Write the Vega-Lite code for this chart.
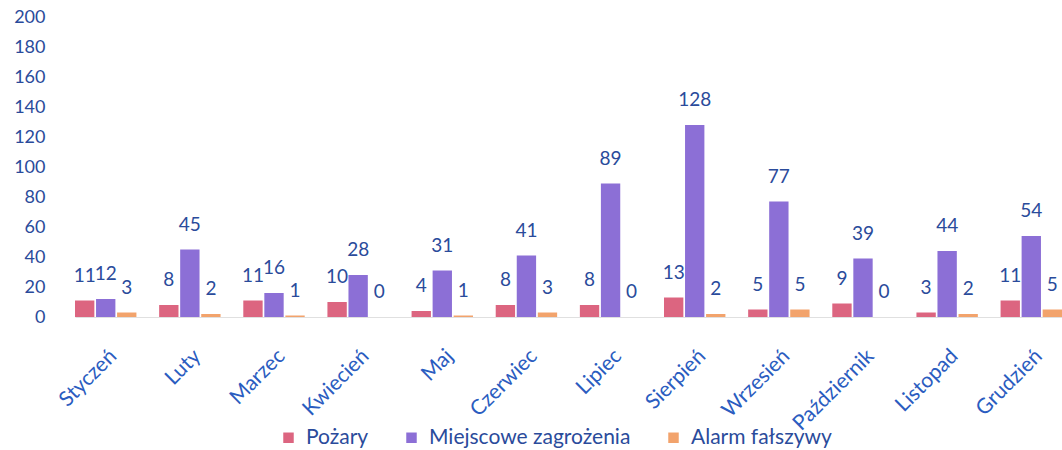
{
  "$schema": "https://vega.github.io/schema/vega-lite/v6.json",
  "width": 987,
  "height": 300,
  "autosize": {"type": "none"},
  "padding": {"left": 75, "top": 17, "right": 0, "bottom": 133},
  "background": "white",
  "config": {
    "view": {"stroke": null},
    "font": "Lato"
  },
  "data": {
    "values": [
      {"m": "Styczeń", "s": "Pożary", "v": 11},
      {"m": "Styczeń", "s": "Miejscowe zagrożenia", "v": 12},
      {"m": "Styczeń", "s": "Alarm fałszywy", "v": 3},
      {"m": "Luty", "s": "Pożary", "v": 8},
      {"m": "Luty", "s": "Miejscowe zagrożenia", "v": 45},
      {"m": "Luty", "s": "Alarm fałszywy", "v": 2},
      {"m": "Marzec", "s": "Pożary", "v": 11},
      {"m": "Marzec", "s": "Miejscowe zagrożenia", "v": 16},
      {"m": "Marzec", "s": "Alarm fałszywy", "v": 1},
      {"m": "Kwiecień", "s": "Pożary", "v": 10},
      {"m": "Kwiecień", "s": "Miejscowe zagrożenia", "v": 28},
      {"m": "Kwiecień", "s": "Alarm fałszywy", "v": 0},
      {"m": "Maj", "s": "Pożary", "v": 4},
      {"m": "Maj", "s": "Miejscowe zagrożenia", "v": 31},
      {"m": "Maj", "s": "Alarm fałszywy", "v": 1},
      {"m": "Czerwiec", "s": "Pożary", "v": 8},
      {"m": "Czerwiec", "s": "Miejscowe zagrożenia", "v": 41},
      {"m": "Czerwiec", "s": "Alarm fałszywy", "v": 3},
      {"m": "Lipiec", "s": "Pożary", "v": 8},
      {"m": "Lipiec", "s": "Miejscowe zagrożenia", "v": 89},
      {"m": "Lipiec", "s": "Alarm fałszywy", "v": 0},
      {"m": "Sierpień", "s": "Pożary", "v": 13},
      {"m": "Sierpień", "s": "Miejscowe zagrożenia", "v": 128},
      {"m": "Sierpień", "s": "Alarm fałszywy", "v": 2},
      {"m": "Wrzesień", "s": "Pożary", "v": 5},
      {"m": "Wrzesień", "s": "Miejscowe zagrożenia", "v": 77},
      {"m": "Wrzesień", "s": "Alarm fałszywy", "v": 5},
      {"m": "Październik", "s": "Pożary", "v": 9},
      {"m": "Październik", "s": "Miejscowe zagrożenia", "v": 39},
      {"m": "Październik", "s": "Alarm fałszywy", "v": 0},
      {"m": "Listopad", "s": "Pożary", "v": 3},
      {"m": "Listopad", "s": "Miejscowe zagrożenia", "v": 44},
      {"m": "Listopad", "s": "Alarm fałszywy", "v": 2},
      {"m": "Grudzień", "s": "Pożary", "v": 11},
      {"m": "Grudzień", "s": "Miejscowe zagrożenia", "v": 54},
      {"m": "Grudzień", "s": "Alarm fałszywy", "v": 5}
    ]
  },
  "encoding": {
    "x": {
      "field": "m",
      "type": "nominal",
      "sort": ["Styczeń", "Luty", "Marzec", "Kwiecień", "Maj", "Czerwiec", "Lipiec", "Sierpień", "Wrzesień", "Październik", "Listopad", "Grudzień"],
      "scale": {"paddingInner": 0.27, "paddingOuter": 0},
      "axis": {
        "title": null,
        "labelAngle": -45,
        "labelFontSize": 21,
        "labelColor": "#2a5cc0",
        "labelPadding": 28,
        "ticks": false,
        "domain": true,
        "domainColor": "#e0e0e0",
        "labelLimit": 200
      }
    },
    "xOffset": {
      "field": "s",
      "type": "nominal",
      "sort": ["Pożary", "Miejscowe zagrożenia", "Alarm fałszywy"],
      "scale": {"paddingInner": 0.08}
    },
    "y": {
      "field": "v",
      "type": "quantitative",
      "scale": {"domain": [0, 200]},
      "axis": {
        "title": null,
        "values": [0, 20, 40, 60, 80, 100, 120, 140, 160, 180, 200],
        "labelFontSize": 18,
        "labelColor": "#2a4b9b",
        "labelPadding": 30,
        "ticks": false,
        "domain": false,
        "grid": false
      }
    }
  },
  "layer": [
    {
      "mark": {"type": "bar"},
      "encoding": {
        "color": {
          "field": "s",
          "type": "nominal",
          "sort": ["Pożary", "Miejscowe zagrożenia", "Alarm fałszywy"],
          "scale": {
            "domain": ["Pożary", "Miejscowe zagrożenia", "Alarm fałszywy"],
            "range": ["#dc6580", "#8c6fd6", "#f2a36c"]
          },
          "legend": {
            "title": null,
            "orient": "none",
            "legendX": 203,
            "legendY": 410,
            "direction": "horizontal",
            "symbolType": "square",
            "symbolSize": 110,
            "symbolStrokeWidth": 0,
            "labelFontSize": 21,
            "labelColor": "#2a4b9b",
            "labelLimit": 400,
            "labelOffset": 7,
            "columnPadding": 32
          }
        }
      }
    },
    {
      "mark": {"type": "text", "baseline": "middle", "dy": -25, "fontSize": 19, "color": "#2a4b9b"},
      "encoding": {
        "text": {"field": "v", "type": "quantitative"}
      }
    }
  ]
}
